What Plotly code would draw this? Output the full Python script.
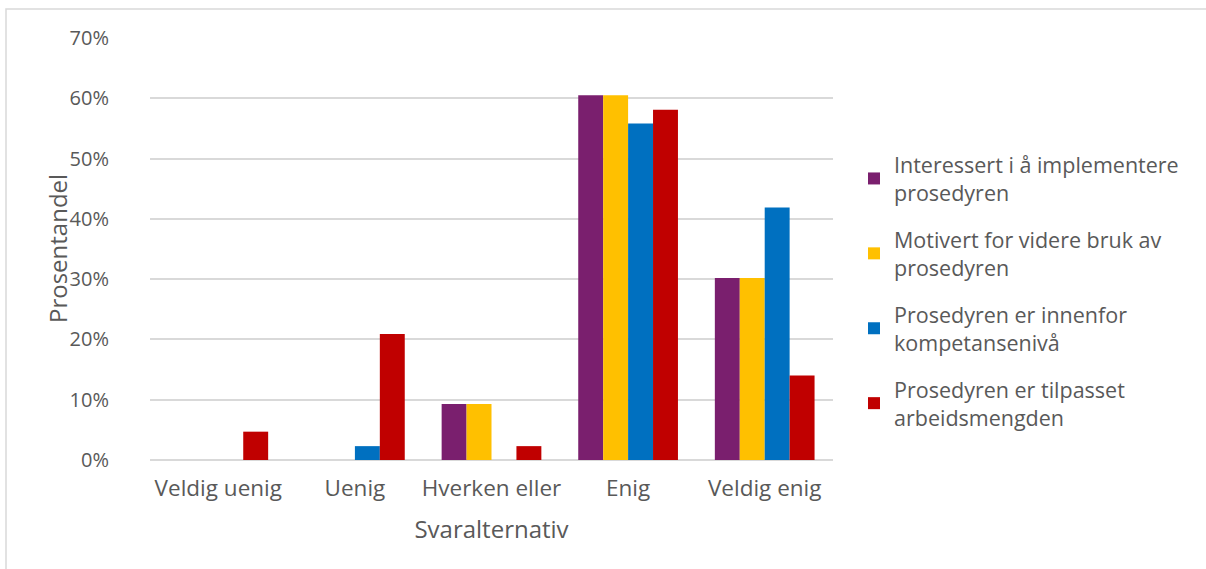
import plotly.graph_objects as go

categories = ["Veldig uenig", "Uenig", "Hverken eller", "Enig", "Veldig enig"]

series_names = [
    "Interessert i å implementere<br>prosedyren",
    "Motivert for videre bruk av<br>prosedyren",
    "Prosedyren er innenfor<br>kompetansenivå",
    "Prosedyren er tilpasset<br>arbeidsmengden",
]

interessert = [0.0, 0.0, 0.093, 0.605, 0.302]
motivert = [0.0, 0.0, 0.093, 0.605, 0.302]
kompetanse = [0.0, 0.023, 0.0, 0.558, 0.419]
arbeidsmengde = [0.047, 0.209, 0.023, 0.581, 0.140]

colors = ["#7A1F6E", "#FFC000", "#0070C0", "#C00000"]

y_ticks = [0, 0.1, 0.2, 0.3, 0.4, 0.5, 0.6, 0.7]
y_tick_labels = ["0%", "10%", "20%", "30%", "40%", "50%", "60%", "70%"]

W, H = 1206, 569
L, R, T, B = 150, 373, 38, 109
pw, ph = W - L - R, H - T - B

FONT = "Open Sans"
TXT = "#595959"


def px_x(x):
    return (x - L) / pw


def px_y(y):
    return (H - B - y) / ph


fig = go.Figure()
for i, (name, vals) in enumerate(zip(series_names, [interessert, motivert, kompetanse, arbeidsmengde])):
    fig.add_trace(go.Bar(
        x=categories, y=vals, name=name,
        marker=dict(color=colors[i], line=dict(width=0)),
        legendgroup=f"g{i}",
        hoverinfo="skip",
    ))

# outer chart frame (runs off the right and bottom edges)
fig.add_shape(type="rect", xref="paper", yref="paper",
              x0=px_x(6), x1=px_x(1300),
              y0=px_y(700), y1=px_y(9),
              line=dict(color="#d9d9d9", width=1.5), fillcolor="rgba(0,0,0,0)",
              layer="below")

# y-axis title
fig.add_annotation(text="Prosentandel", xref="paper", yref="paper",
                   x=px_x(57), y=0.5, xanchor="center", yanchor="middle",
                   textangle=-90, showarrow=False,
                   font=dict(size=24, color=TXT, family=FONT))

fig.update_layout(
    width=W, height=H,
    margin=dict(l=L, r=R, t=T, b=B, autoexpand=False),
    paper_bgcolor="white", plot_bgcolor="white",
    barmode="group", bargap=0.27, bargroupgap=0,
    font=dict(family=FONT, color=TXT, size=20),
    showlegend=True,
    legend=dict(
        x=px_x(854), xanchor="left",
        y=px_y(291), yanchor="middle",
        font=dict(size=21.5, color=TXT, family=FONT),
        tracegroupgap=16,
        itemwidth=30,
        bgcolor="rgba(0,0,0,0)",
    ),
    xaxis=dict(
        showgrid=False, showline=False, zeroline=False,
        ticks="", tickfont=dict(size=22.5, color=TXT),
        ticklabelstandoff=12,
        title=dict(text="Svaralternativ", font=dict(size=24, color=TXT), standoff=19),
    ),
    yaxis=dict(
        range=[0, 0.7], tickvals=y_ticks, ticktext=y_tick_labels,
        showgrid=True, gridcolor="#d9d9d9", gridwidth=1.5,
        zeroline=True, zerolinecolor="#d9d9d9", zerolinewidth=1.5,
        showline=False, ticks="",
        tickfont=dict(size=20, color=TXT),
        ticklabelstandoff=40,
    ),
)

fig.write_html("out.html")
